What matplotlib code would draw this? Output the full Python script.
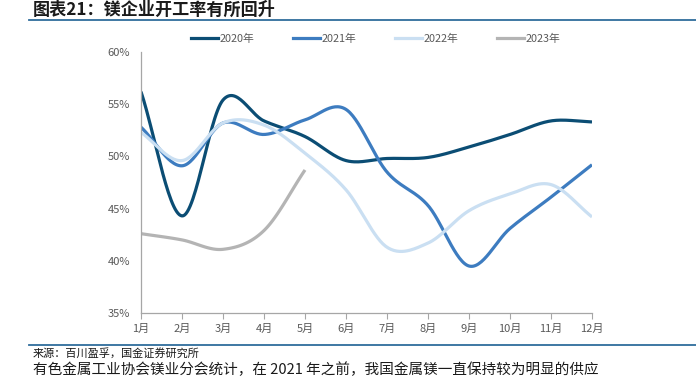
import numpy as np
import matplotlib
matplotlib.use("Agg")
import matplotlib.pyplot as plt
from matplotlib.lines import Line2D

plt.rcParams['font.family'] = ['Noto Sans CJK SC', 'DejaVu Sans']

months = ['1月', '2月', '3月', '4月', '5月', '6月', '7月', '8月', '9月', '10月', '11月', '12月']
y2020 = [56.2, 44.3, 55.4, 53.4, 51.9, 49.6, 49.8, 49.9, 50.9, 52.1, 53.4, 53.3]
y2021 = [52.8, 49.1, 53.2, 52.1, 53.5, 54.5, 48.5, 45.3, 39.5, 43.1, 46.1, 49.2]
y2022 = [52.3, 49.6, 53.2, 53.0, 50.3, 46.8, 41.3, 41.7, 44.8, 46.4, 47.3, 44.2]
y2023 = [42.6, 42.0, 41.1, 42.9, 48.7]
series = [('2020年', y2020, '#0b4d74'), ('2021年', y2021, '#3d7cc0'),
          ('2022年', y2022, '#cadff2'), ('2023年', y2023, '#b4b4b4')]
yticks = [35, 40, 45, 50, 55, 60]

def smooth(xs, ys, n=30):
    # Catmull-Rom style rendering (like Excel smoothed lines)
    xs = np.asarray(xs, float); ys = np.asarray(ys, float)
    px = np.concatenate([[2*xs[0]-xs[1]], xs, [2*xs[-1]-xs[-2]]])
    py = np.concatenate([[2*ys[0]-ys[1]], ys, [2*ys[-1]-ys[-2]]])
    ox, oy = [], []
    t = np.linspace(0, 1, n, endpoint=False)
    for i in range(1, len(px)-2):
        p0, p1, p2, p3 = (px[i-1], py[i-1]), (px[i], py[i]), (px[i+1], py[i+1]), (px[i+2], py[i+2])
        b1 = (p1[0] + (p2[0]-p0[0])/6, p1[1] + (p2[1]-p0[1])/6)
        b2 = (p2[0] - (p3[0]-p1[0])/6, p2[1] - (p3[1]-p1[1])/6)
        c = [p1, b1, b2, p2]
        bx = ((1-t)**3)*c[0][0] + 3*((1-t)**2)*t*c[1][0] + 3*(1-t)*t*t*c[2][0] + t**3*c[3][0]
        by = ((1-t)**3)*c[0][1] + 3*((1-t)**2)*t*c[1][1] + 3*(1-t)*t*t*c[2][1] + t**3*c[3][1]
        ox.extend(bx); oy.extend(by)
    ox.append(xs[-1]); oy.append(ys[-1])
    return np.array(ox), np.array(oy)

fig = plt.figure(figsize=(6.96, 3.76), dpi=100)
ax = fig.add_axes([141/696, 1-313/376, 451/696, 261/376])

handles = []
for name, vals, col in series:
    xs = np.arange(len(vals))
    sx, sy = smooth(xs, vals)
    ax.plot(sx, sy, color=col, lw=2.3, solid_capstyle='butt')
    handles.append(Line2D([0], [0], color=col, lw=2.3, label=name))

ax.set_xlim(0, 11)
ax.set_ylim(35, 60)
ax.set_xticks(range(12))
ax.set_xticklabels(months)
ax.set_yticks(yticks)
ax.set_yticklabels([f'{v}%' for v in yticks])
for s in ['top', 'right']:
    ax.spines[s].set_visible(False)
for s in ['left', 'bottom']:
    ax.spines[s].set_color('#a6a6a6')
    ax.spines[s].set_linewidth(0.9)
ax.tick_params(axis='x', colors='#a6a6a6', labelcolor='#595959', labelsize=8, length=4, pad=4)
ax.tick_params(axis='y', length=0, labelcolor='#595959', labelsize=8, pad=8)

leg = ax.legend(handles=handles, ncol=4, loc='center', bbox_to_anchor=(0.52, 1.05),
                frameon=False, fontsize=7.8, handlelength=2.5, handletextpad=0.1,
                columnspacing=3.6, labelcolor='#595959')

# title and decorations
fig.text(33/696, 1-10/376, '图表21：镁企业开工率有所回升', fontsize=12.3, fontweight='bold',
         color='#1a1a1a', va='center', ha='left')
fig.add_artist(Line2D([29/696, 1], [1-20/376, 1-20/376], color='#2f6d9c', lw=1.3))
fig.add_artist(Line2D([29/696, 1], [1-345/376, 1-345/376], color='#2f6d9c', lw=1.3))
fig.text(33/696, 1-353/376, '来源：百川盈孚，国金证券研究所', fontsize=8, color='#1a1a1a',
         va='center', ha='left')
fig.text(33/696, 1-374/376, '有色金属工业协会镁业分会统计，在 2021 年之前，我国金属镁一直保持较为明显的供应',
         fontsize=10.5, color='#1a1a1a', va='baseline', ha='left')

fig.savefig('out.png', dpi=100)
